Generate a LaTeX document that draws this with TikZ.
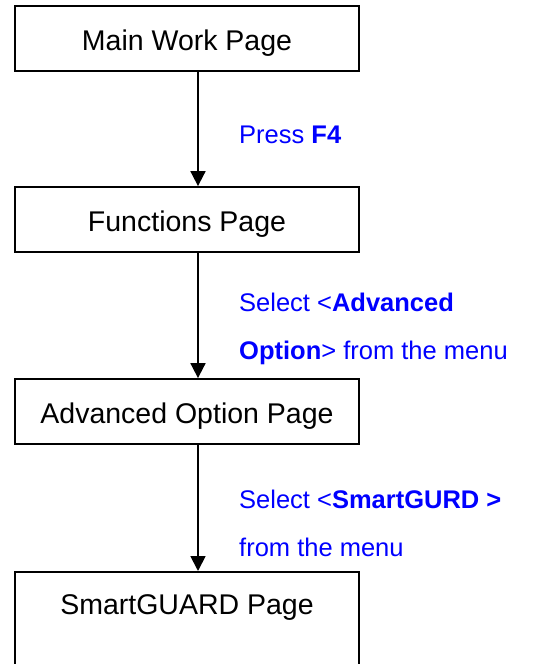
\documentclass[tikz,border=0pt]{standalone}
\usepackage{fontspec}
\setmainfont{Liberation Sans}
\definecolor{stepblue}{RGB}{0,0,255}
\usetikzlibrary{arrows.meta}

\begin{document}
\begin{tikzpicture}[x=1pt,y=-1pt,
    every node/.style={font=\fontsize{28.5}{34}\selectfont},
    box/.style={draw,line width=1.8pt,minimum width=344pt,minimum height=65pt,
                text height=25pt,text depth=2pt,align=center},
    note/.style={text=stepblue,align=left,anchor=base west,inner sep=0pt,
                 font=\fontsize{25.5}{48}\selectfont},
    arr/.style={-{Triangle[length=15pt,width=15pt]},line width=1.8pt}]

  \useasboundingbox (0,0) rectangle (547,664);
  \clip (0,0) rectangle (547,664);

  %% Pages
  \node[box] (main) at (187,38.5) {Main Work Page};
  \node[box] (func) at (187,219.5) {Functions Page};
  \node[box] (adv)  at (187,411.5) {Advanced Option Page};
  \node[box,anchor=north,inner ysep=18pt,text depth=120pt] (sg) at (187,571) {SmartGUARD Page};

  %% Steps
  \node[note] (pressf) at (239,143) {Press \textbf{F4}};
  \node[note] (seladv) at (239,359) {Select <\textbf{Advanced}\\\textbf{Option}> from the menu};
  \node[note] (selsg)  at (239,556) {Select <\textbf{SmartGURD >}\\from the menu};

  %% Arrows (a little right of the box centres)
  \draw[arr] ([xshift=11pt]main.south) -- ([xshift=11pt]func.north);
  \draw[arr] ([xshift=11pt]func.south) -- ([xshift=11pt]adv.north);
  \draw[arr] ([xshift=11pt]adv.south)  -- ([xshift=11pt]sg.north);
\end{tikzpicture}
\end{document}
